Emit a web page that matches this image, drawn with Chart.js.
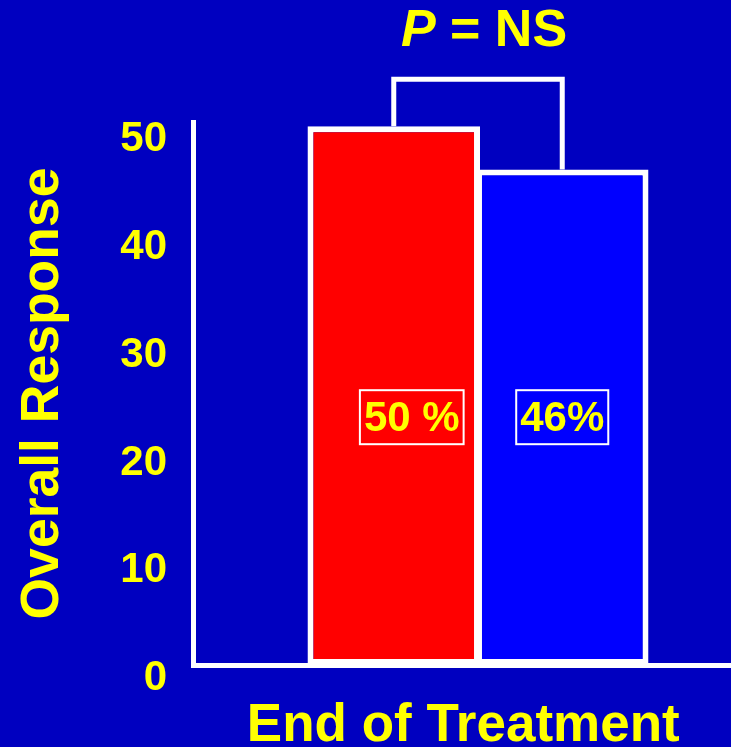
<!DOCTYPE html>
<html>
<head>
<meta charset="utf-8">
<title>Overall Response at End of Treatment</title>
<script src="https://cdn.jsdelivr.net/npm/chart.js@4.4.1/dist/chart.umd.min.js"></script>
<style>
  html, body { margin: 0; padding: 0; background: #0000C0; overflow: hidden; }
  #wrap { width: 731px; height: 747px; overflow: hidden; position: relative; }
  #c { position: absolute; left: 0; top: 0; }
</style>
</head>
<body>
<div id="wrap"><canvas id="c" width="763" height="747"></canvas></div>
<script>
// Data
const categories = ['End of Treatment'];
const armA = [50];            // red bar, %
const armB = [46];            // blue bar, %
const valueLabels = ['50 %', '46%'];
const yTicks = [0, 10, 20, 30, 40, 50];
const pValueParts = ['P', ' = NS'];

const FONT = "'Liberation Sans', Arial, Helvetica, sans-serif";
const YELLOW = '#FFFF00';
const WHITE = '#FFFFFF';

// Bracket, p-value text and boxed value labels
const annotate = {
  id: 'annotate',
  afterDatasetsDraw(chart, args, opts) {
    const ctx = chart.ctx;
    const yScale = chart.scales.y;
    const bars = [chart.getDatasetMeta(0).data[0], chart.getDatasetMeta(1).data[0]];

    ctx.save();
    // comparison bracket between the two bars
    const top = Math.min(bars[0].y, bars[1].y) - opts.bracketRise;
    ctx.strokeStyle = WHITE;
    ctx.lineWidth = 5;
    ctx.lineJoin = 'miter';
    ctx.beginPath();
    ctx.moveTo(bars[0].x, bars[0].y);
    ctx.lineTo(bars[0].x, top);
    ctx.lineTo(bars[1].x, top);
    ctx.lineTo(bars[1].x, bars[1].y);
    ctx.stroke();

    // "P = NS"
    const cx = (bars[0].x + bars[1].x) / 2 + opts.pShift;
    const italic = 'italic bold 52px ' + FONT;
    const bold = 'bold 52px ' + FONT;
    ctx.font = italic;
    const w1 = ctx.measureText(pValueParts[0]).width;
    ctx.font = bold;
    const w2 = ctx.measureText(pValueParts[1]).width;
    const x0 = cx - (w1 + w2) / 2;
    ctx.fillStyle = YELLOW;
    ctx.textBaseline = 'middle';
    ctx.textAlign = 'left';
    ctx.font = italic;
    ctx.fillText(pValueParts[0], x0, opts.pY);
    ctx.font = bold;
    ctx.fillText(pValueParts[1], x0 + w1, opts.pY);

    // boxed value labels inside the bars
    ctx.font = 'bold 42px ' + FONT;
    ctx.textAlign = 'center';
    const by = yScale.getPixelForValue(opts.labelLevel);
    bars.forEach((bar, i) => {
      const text = valueLabels[i];
      const w = ctx.measureText(text).width;
      const bx = bar.x + opts.labelShift[i];
      ctx.strokeStyle = WHITE;
      ctx.lineWidth = 2;
      ctx.strokeRect(bx - w / 2 - 4, by - 27, w + 8, 54);
      ctx.fillStyle = YELLOW;
      ctx.fillText(text, bx, by + 2);
    });
    ctx.restore();
  }
};

new Chart(document.getElementById('c'), {
  type: 'bar',
  data: {
    labels: categories,
    datasets: [
      {
        label: 'Arm A',
        data: armA,
        backgroundColor: '#FF0000',
        borderColor: WHITE,
        borderWidth: 6,
        borderSkipped: false,
        categoryPercentage: 0.5912,
        barPercentage: 1.024
      },
      {
        label: 'Arm B',
        data: armB,
        backgroundColor: '#0000FF',
        borderColor: WHITE,
        borderWidth: 6,
        borderSkipped: false,
        categoryPercentage: 0.5912,
        barPercentage: 1.024
      }
    ]
  },
  options: {
    responsive: false,
    animation: false,
    events: [],
    layout: { padding: { top: 122, right: 0, bottom: 0, left: 0 } },
    plugins: {
      legend: { display: false },
      tooltip: { enabled: false },
      annotate: {
        bracketRise: 47,
        pShift: 6,
        pY: 32,
        labelLevel: 23,
        labelShift: [18, 0]
      }
    },
    scales: {
      x: {
        offset: true,
        grid: { display: false },
        border: { display: true, color: WHITE, width: 5 },
        ticks: { display: false },
        title: {
          display: true,
          text: categories[0] + '\u00A0\u00A0',
          color: YELLOW,
          font: { family: FONT, size: 53, weight: 'bold', lineHeight: 0.77 },
          padding: { top: 0, bottom: 0 }
        },
        afterFit(s) { s.height = 82; }
      },
      y: {
        min: 0,
        max: 50.4,
        grid: { display: false },
        border: { display: true, color: WHITE, width: 5 },
        ticks: {
          color: YELLOW,
          font: { family: FONT, size: 42, weight: 'bold' },
          padding: 18,
          labelOffset: 13.5
        },
        afterBuildTicks(s) { s.ticks = yTicks.map(v => ({ value: v })); },
        title: {
          display: true,
          text: 'Overall Response',
          color: YELLOW,
          font: { family: FONT, size: 53.5, weight: 'bold', lineHeight: 1 },
          padding: { top: 16, bottom: 0 }
        },
        afterFit(s) { s.width = 193; }
      }
    }
  },
  plugins: [annotate]
});
</script>
</body>
</html>
